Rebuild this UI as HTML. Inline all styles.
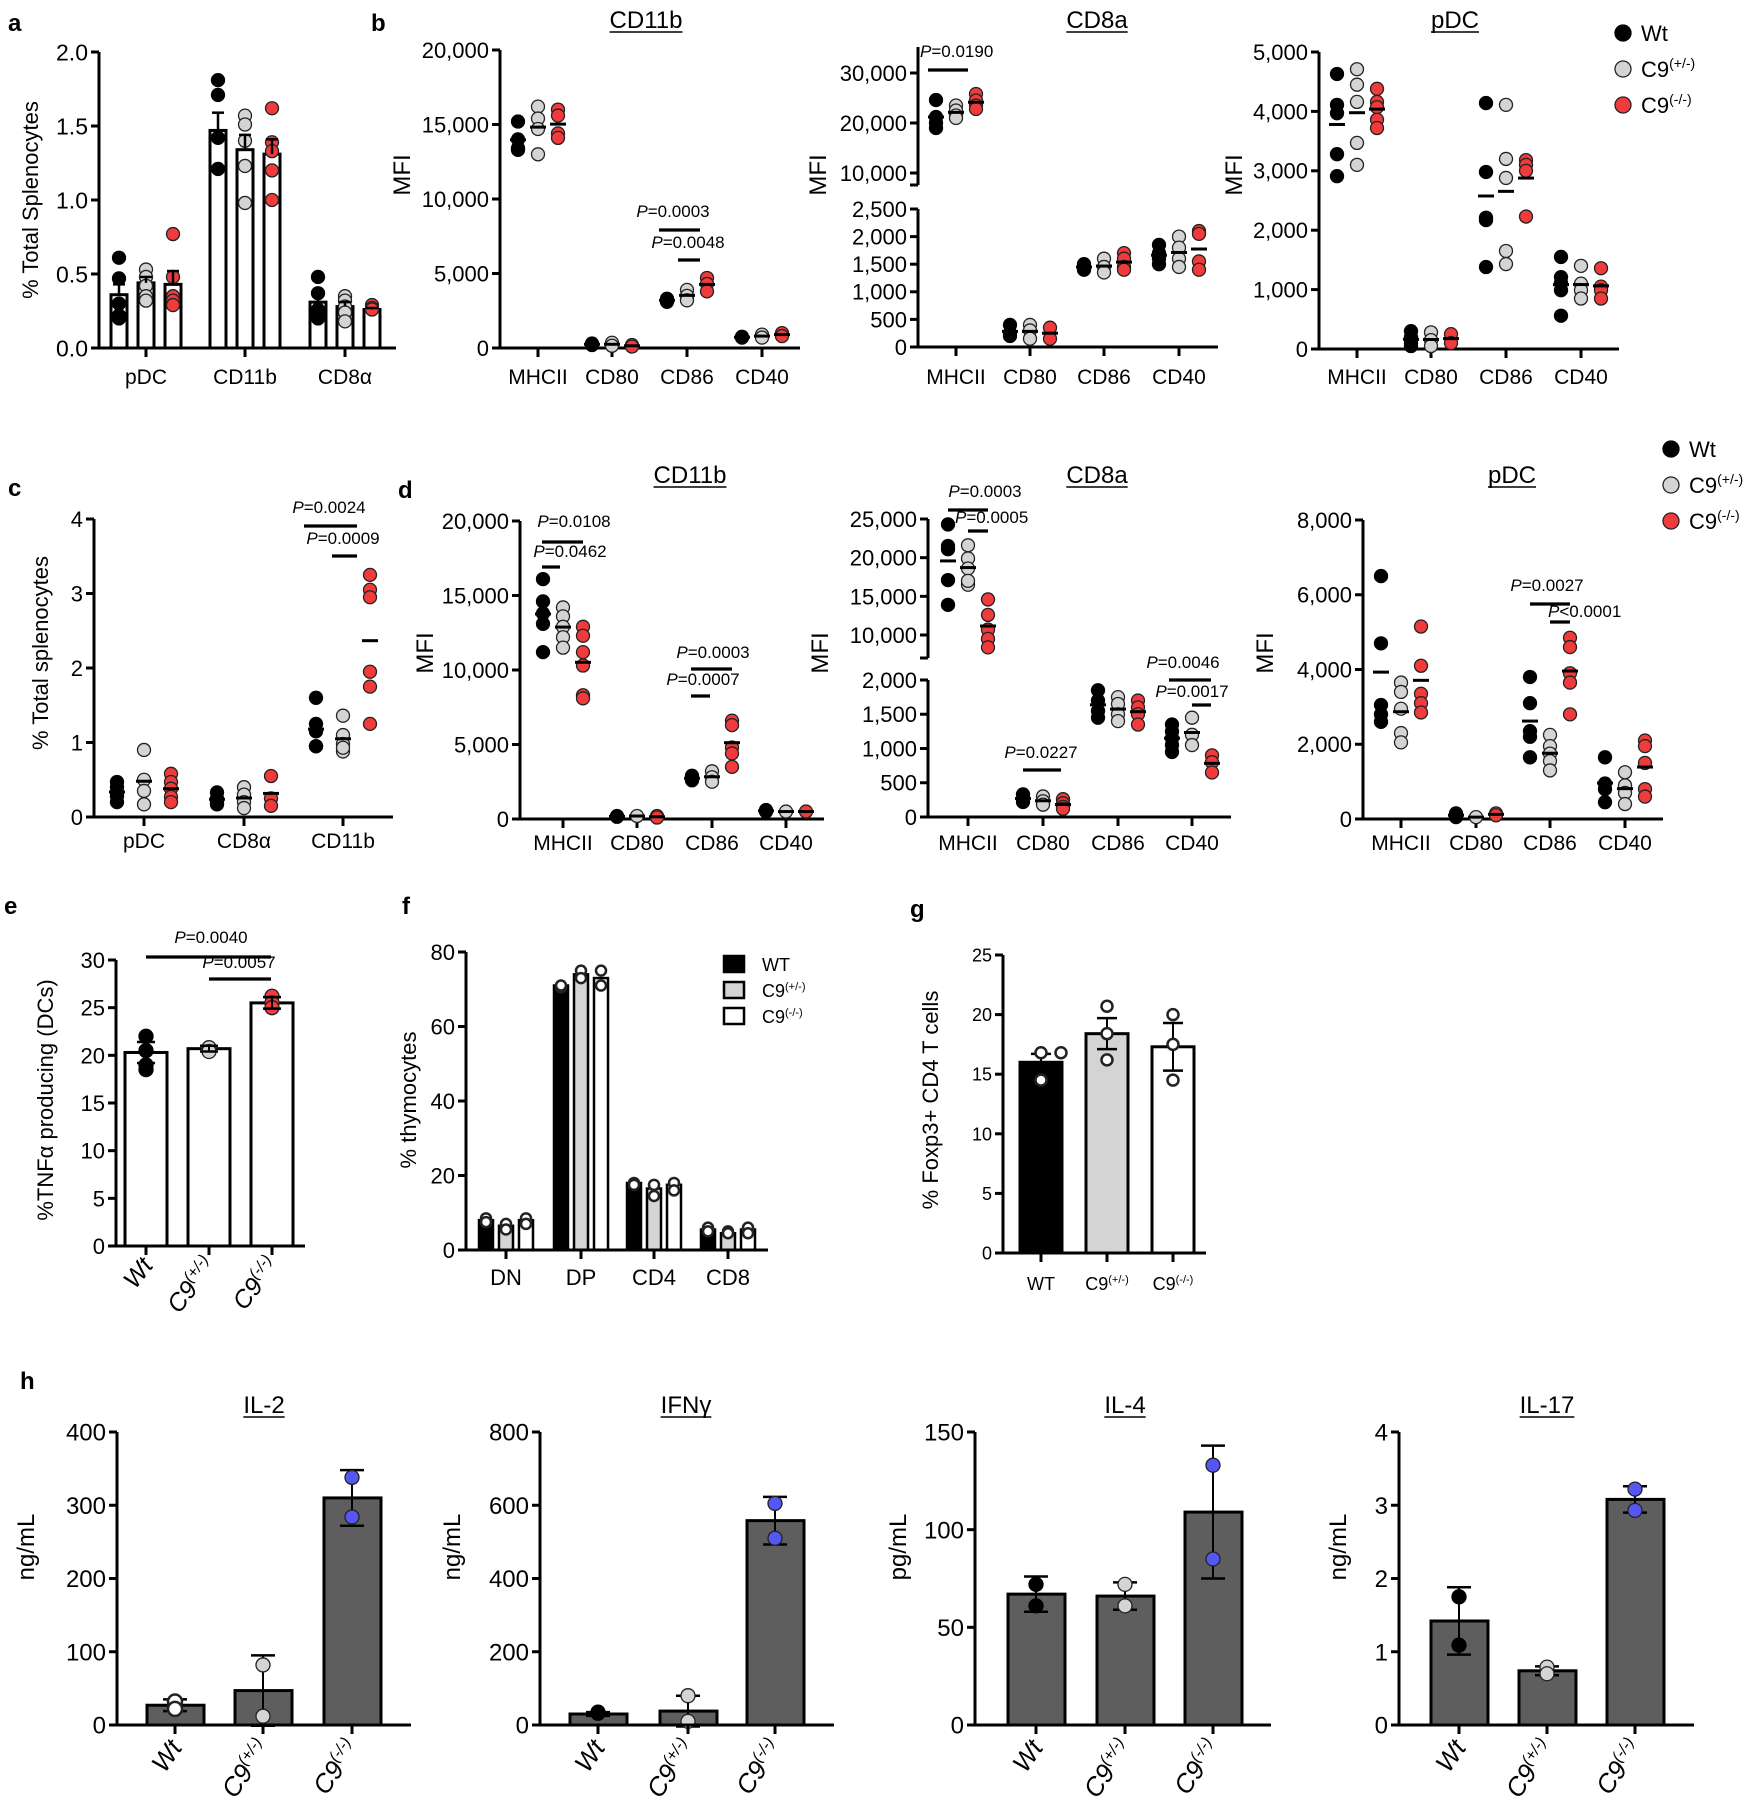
<!DOCTYPE html>
<html><head><meta charset="utf-8">
<style>body{margin:0;background:#fff}svg{display:block}text{font-family:"Liberation Sans",Arial,sans-serif}</style>
</head><body>
<svg id="fig" width="1748" height="1800" viewBox="0 0 1748 1800" xmlns="http://www.w3.org/2000/svg"></svg>
<script>
// ---------- DATA ----------
const genoLabels = ['Wt','C9(+/-)','C9(-/-)'];
// panel a
const a_cats = ['pDC','CD11b','CD8α'];
const a_ticks = [0,0.5,1,1.5,2];
const a_tickLabels = ['0.0','0.5','1.0','1.5','2.0'];
const a_barWt = [0.36,1.47,0.31];
const a_barHet = [0.44,1.34,0.28];
const a_barKo = [0.43,1.31,0.26];
const a_semWt = [0.07,0.12,0.05];
const a_semHet = [0.04,0.1,0.03];
const a_semKo = [0.09,0.1,0.01];
const a_ptsWt = [[0.61,0.47,0.3,0.22,0.2],[1.81,1.71,1.42,1.21],[0.48,0.37,0.26,0.2,0.22]];
const a_ptsHet = [[0.53,0.48,0.42,0.35,0.32],[1.57,1.51,1.4,1.23,0.98],[0.35,0.32,0.28,0.24,0.18]];
const a_ptsKo = [[0.77,0.48,0.35,0.32,0.29],[1.62,1.39,1.33,1.2,1.0],[0.29,0.27,0.26]];
// panel b
const b_cats = ['MHCII','CD80','CD86','CD40'];
const b1_ticks = [0,5000,10000,15000,20000];
const b1_tickLabels = ['0','5,000','10,000','15,000','20,000'];
const b1_wt = [[15200,14000,13400,13300],[300,200],[3300,3200,3100],[700,750]];
const b1_het = [[16200,15400,14700,13000],[350,150],[3900,3500,3200],[900,700]];
const b1_ko = [[16000,15600,14400,14100],[200,100],[4700,4300,3800],[1000,800]];
const b2_ticksTop = [10000,20000,30000];
const b2_tickLabelsTop = ['10,000','20,000','30,000'];
const b2_ticksBot = [0,500,1000,1500,2000,2500];
const b2_tickLabelsBot = ['0','500','1,000','1,500','2,000','2,500'];
const b2_wt = [[24600,21200,20000,19000],[400,250,200],[1500,1450,1400],[1850,1700,1600,1500]];
const b2_het = [[23500,22500,21500,21000],[400,300,150],[1600,1450,1350],[2000,1800,1600,1450]];
const b2_ko = [[25800,24500,23500,22800],[350,150],[1700,1600,1450,1400],[2100,2050,1550,1400]];
const b3_ticks = [0,1000,2000,3000,4000,5000];
const b3_tickLabels = ['0','1,000','2,000','3,000','4,000','5,000'];
const b3_wt = [[4630,4110,3970,3280,2910],[300,200,100,50],[4140,2980,2210,2170,1380],[1550,1210,1110,990,560]];
const b3_het = [[4710,4450,4160,3470,3100],[280,150,50],[4110,3200,2880,1650,1430],[1400,1100,990,850]];
const b3_ko = [[4380,4160,4070,3860,3720],[250,100],[3180,3100,3000,2230],[1360,1050,990,850]];
// panel c
const c_cats = ['pDC','CD8α','CD11b'];
const c_ticks = [0,1,2,3,4];
const c_tickLabels = ['0','1','2','3','4'];
const c_wt = [[0.47,0.4,0.33,0.28,0.2],[0.33,0.25,0.2,0.17],[1.6,1.25,1.15,0.95,0.95]];
const c_het = [[0.9,0.5,0.35,0.17],[0.4,0.3,0.2,0.12],[1.36,1.1,0.98,0.88,0.93]];
const c_ko = [[0.58,0.47,0.38,0.27,0.2],[0.55,0.25,0.15],[3.25,3.05,2.95,1.95,1.75,1.25]];
// panel d
const d1_ticks = [0,5000,10000,15000,20000];
const d1_tickLabels = ['0','5,000','10,000','15,000','20,000'];
const d1_wt = [[16100,14600,13800,13100,11200],[200,150],[2900,2700,2600],[600,500]];
const d1_het = [[14200,13600,12900,12200,11500],[200],[3200,2800,2500],[500]];
const d1_ko = [[12900,12300,11200,10300,8300,8100],[200,100],[6600,6300,4800,4400,3500],[500]];
const d2_ticksTop = [10000,15000,20000,25000];
const d2_tickLabelsTop = ['10,000','15,000','20,000','25,000'];
const d2_ticksBot = [0,500,1000,1500,2000];
const d2_tickLabelsBot = ['0','500','1,000','1,500','2,000'];
const d2_wt = [[24300,21100,17100,13900,21500],[330,260,220],[1850,1700,1550,1450],[1350,1250,1150,1050,950]];
const d2_het = [[21600,19900,18600,16500,17000],[300,230,180],[1750,1650,1500,1400],[1450,1200,1050]];
const d2_ko = [[14600,12600,10700,9500,8400],[260,200,150,120],[1700,1600,1500,1350],[900,800,650]];
const d3_ticks = [0,2000,4000,6000,8000];
const d3_tickLabels = ['0','2,000','4,000','6,000','8,000'];
const d3_wt = [[6500,4700,3050,2800,2600],[150,50],[3800,3100,2350,2200,1650],[1650,950,800,450]];
const d3_het = [[3650,3400,2950,2300,2050],[50],[2250,1950,1750,1550,1300],[1250,900,700,400]];
const d3_ko = [[5150,4100,3350,3100,2850],[150,100],[4850,4600,3900,3650,2800],[2100,1950,1500,800,600]];
// panel e
const e_ticks = [0,5,10,15,20,25,30];
const e_bars = [20.3,20.7,25.5];
const e_sem = [1.1,0.3,0.6];
const e_ptsWt = [22,20.5,19,18.5];
const e_ptsHet = [20.8,20.4];
const e_ptsKo = [26.2,25.5,25];
// panel f
const f_cats = ['DN','DP','CD4','CD8'];
const f_ticks = [0,20,40,60,80];
const f_legend = ['WT','C9(+/-)','C9(-/-)'];
const f_barWt = [8,71,18,5.5];
const f_barHet = [6.5,74,16.5,4.5];
const f_barKo = [8,73,17.5,5.5];
const f_ptsWt = [[8.5,7.5],[70.5,71],[18,17.5],[6,5]];
const f_ptsHet = [[7,5.5],[75,73],[17.5,14.5],[5,4.5]];
const f_ptsKo = [[8.5,7],[75,71],[18,16],[6,4.5]];
// panel g
const g_cats = ['WT','C9(+/-)','C9(-/-)'];
const g_ticks = [0,5,10,15,20,25];
const g_bars = [16,18.4,17.3];
const g_sem = [0.7,1.3,2.0];
const g_pts = [[16.8,16.8,14.5],[20.7,18.4,16.2],[20,17.5,14.5]];
// panel h
const h_titles = ['IL-2','IFNγ','IL-4','IL-17'];
const h_units = ['ng/mL','ng/mL','pg/mL','ng/mL'];
const h_max = [400,800,150,4];
const h_ticksIL2 = [0,100,200,300,400];
const h_ticksIFN = [0,200,400,600,800];
const h_ticksIL4 = [0,50,100,150];
const h_ticksIL17 = [0,1,2,3,4];
const h_barsIL2 = [27,47,310];
const h_barsIFN = [30,38,558];
const h_barsIL4 = [67,66,109];
const h_barsIL17 = [1.42,0.74,3.08];
const h_errIL2 = [8,48,38];
const h_errIFN = [5,42,65];
const h_errIL4 = [9,7,34];
const h_errIL17 = [0.46,0.06,0.18];
const h_ptsIL2 = [[32,22],[82,12],[338,284]];
const h_ptsIFN = [[35,32],[80,10],[605,510]];
const h_ptsIL4 = [[72,61],[72,61],[133,85]];
const h_ptsIL17 = [[1.75,1.09],[0.79,0.7],[3.22,2.93]];

// ---------- HELPERS ----------
const NS='http://www.w3.org/2000/svg';
const svg=document.getElementById('fig');
const FILL={wt:'#000',het:'#d4d4d4',ko:'#ef3b3b',blue:'#5656f5',white:'#fff'};
function mk(tag, attrs, name){
  const e=document.createElementNS(NS,tag);
  for(const k in attrs) e.setAttribute(k, attrs[k]);
  
  
  svg.appendChild(e);
  return e;
}
function line(x1,y1,x2,y2,name,w){return mk('line',{x1:x1,y1:y1,x2:x2,y2:y2,stroke:'#000','stroke-width':w||3},name);}
function txt(s,x,y,o,name){
  o=o||{};
  const t=mk('text',{x:x,y:y,'font-size':o.fs||22,'text-anchor':o.anchor||'middle',fill:'#000','font-style':o.italic?'italic':'normal','font-weight':o.bold?'bold':'normal'},name);
  if(o.rot!=null) t.setAttribute('transform','rotate('+o.rot+' '+x+' '+y+')');
  const m=/^(C9)(\(.*\))$/.exec(s);
  if(m){
    t.appendChild(document.createTextNode(m[1]));
    const sp=document.createElementNS(NS,'tspan');
    sp.setAttribute('font-size',Math.round((o.fs||22)*0.62));
    sp.setAttribute('dy',-(o.fs||22)*0.4);
    sp.textContent=m[2];
    t.appendChild(sp);
  } else t.textContent=s;
  return t;
}
function title(s,x,y,name){
  const t=txt(s,x,y,{fs:24},name);
  const w=t.getComputedTextLength();
  line(x-w/2,y+4,x+w/2,y+4,name+'-underline',1.6);
}
function lin(d0,d1,r0,r1){return v=>r0+(v-d0)/(d1-d0)*(r1-r0);}
function yAxis(ax,segs,ticks,labels,sc,fs,name){
  segs.forEach(s=>line(ax,s[0],ax,s[1],name+'-line'));
  ticks.forEach((v,i)=>{const y=sc(v);line(ax-8,y,ax,y,name+'-tick');txt(labels[i],ax-11,y+fs*0.36,{fs:fs,anchor:'end'},name+'-label');});
}
function xAxis(ax,x1,y,catX,labels,fs,ly,name){
  line(ax-1.5,y,x1,y,name+'-line');
  catX.forEach((x,i)=>{line(x,y,x,y+9,name+'-tick');if(labels) txt(labels[i],x,ly,{fs:fs},name+'-label');});
}
function dot(x,y,fill,r,name){return mk('circle',{cx:x,cy:y,r:r||6.5,fill:fill,stroke:fill==='#000'?'#000':'#222','stroke-width':fill===FILL.white?2.5:1.3},name);}
function sig(x1,x2,y,label,tx,ty,anchor,name){
  line(x1,y,x2,y,name+'-bar',3.2);
  const t=mk('text',{x:tx,y:ty,'font-size':17,'text-anchor':anchor||'middle',fill:'#000'},name+'-text');
  const p=document.createElementNS(NS,'tspan');p.setAttribute('font-style','italic');p.textContent='P';t.appendChild(p);
  t.appendChild(document.createTextNode(label));
}
function errBar(x,v,e,sc,cap,name){
  line(x,sc(v+e),x,sc(v-e),name,2);
  line(x-cap,sc(v+e),x+cap,sc(v+e),name+'-cap',2.5);
  line(x-cap,sc(v-e),x+cap,sc(v-e),name+'-cap',2.5);
}
const GK=['wt','het','ko'];
function dotPanel(P,cats,pts,name){
  yAxis(P.ax,P.segs,P.ticks,P.tickLabels,P.sc,P.fs||22,name+'-y-axis');
  xAxis(P.ax,P.x1,P.y0,P.catX,cats,21,P.ly,name+'-x-axis');
  cats.forEach((c,i)=>{
    GK.forEach((g,gi)=>{
      const xc=P.catX[i]+(gi-1)*P.off;
      const vals=pts[gi][i];
      if(P.bars){
        const bv=P.bars[gi][i];
        mk('rect',{x:xc-8,y:P.sc(bv),width:16,height:P.y0-P.sc(bv),fill:'#fff',stroke:'#000','stroke-width':3},name+'-bar-'+g);
      }
      vals.forEach(v=>dot(xc,P.sc(v),FILL[g],6.5,name+'-point-'+g));
      if(P.bars){
        const bv=P.bars[gi][i],e=P.sems[gi][i];
        line(xc,P.sc(bv),xc,P.sc(bv+e),name+'-sem-'+g,2.5);
        line(xc-6,P.sc(bv+e),xc+6,P.sc(bv+e),name+'-sem-cap-'+g,2.5);
      } else {
        const m=vals.reduce((a,b)=>a+b,0)/vals.length;
        line(xc-8,P.sc(m),xc+8,P.sc(m),name+'-mean-'+g,3);
      }
    });
  });
}
function legendDots(x,ys,name){
  genoLabels.forEach((l,i)=>{dot(x,ys[i],FILL[GK[i]],8,name+'-marker');txt(l,x+18,ys[i]+8,{fs:22,anchor:'start'},name+'-entry');});
}
function fmt(v){return String(v);}

// ---------- PANEL LETTERS ----------
[['a',8,31],['b',371,31],['c',8,496],['d',398,498],['e',4,914],['f',402,914],['g',910,917],['h',20,1389]].forEach(p=>txt(p[0],p[1],p[2],{fs:24,bold:true,anchor:'start'},'panel-letter-'+p[0]));

// ---------- PANEL A ----------
{
const sc=lin(0,2,348,52);
dotPanel({ax:99,x1:396,y0:348,sc:sc,segs:[[52,348]],ticks:a_ticks,tickLabels:a_tickLabels,catX:[146,245,345],off:27,ly:384,fs:23,
  bars:[a_barWt,a_barHet,a_barKo],sems:[a_semWt,a_semHet,a_semKo]},a_cats,
  [a_ptsWt,a_ptsHet,a_ptsKo],'panel-a');
txt('% Total Splenocytes',38,200,{fs:22,rot:-90},'panel-a-y-title');
}
// ---------- PANEL B ----------
{
const sc1=lin(0,20000,348,50);
dotPanel({ax:500,x1:800,y0:348,sc:sc1,segs:[[50,348]],ticks:b1_ticks,tickLabels:b1_tickLabels,catX:[538,612,687,762],off:20,ly:384},b_cats,[b1_wt,b1_het,b1_ko],'panel-b-cd11b');
title('CD11b',646,28,'panel-b-cd11b-title');
txt('MFI',410,175,{fs:24,rot:-90},'panel-b-cd11b-y-title');
sig(659,700,230,'=0.0003',673,217,'middle','panel-b-sig');
sig(678,700,260,'=0.0048',688,248,'middle','panel-b-sig');

const top2=lin(20000,30000,123,73), bot2=lin(0,2500,347,209);
const sc2=v=>v>=5000?top2(v):bot2(v);
yAxis(918,[[47,185],[209,347]],b2_ticksTop,b2_tickLabelsTop,sc2,22,'panel-b-cd8a-y-axis-top');
line(910,185,918,185,'panel-b-cd8a-break-tick');
yAxis(918,[],b2_ticksBot,b2_tickLabelsBot,sc2,22,'panel-b-cd8a-y-axis-bottom');
dotPanel({ax:918,x1:1218,y0:347,sc:sc2,segs:[],ticks:[],tickLabels:[],catX:[956,1030,1104,1179],off:20,ly:384},b_cats,[b2_wt,b2_het,b2_ko],'panel-b-cd8a');
title('CD8a',1097,28,'panel-b-cd8a-title');
txt('MFI',826,175,{fs:24,rot:-90},'panel-b-cd8a-y-title');
sig(928,968,70,'=0.0190',920,57,'start','panel-b-cd8a-sig');

const sc3=lin(0,5000,349,52);
dotPanel({ax:1319,x1:1619,y0:349,sc:sc3,segs:[[52,349]],ticks:b3_ticks,tickLabels:b3_tickLabels,catX:[1357,1431,1506,1581],off:20,ly:384},b_cats,[b3_wt,b3_het,b3_ko],'panel-b-pdc');
title('pDC',1455,28,'panel-b-pdc-title');
txt('MFI',1242,175,{fs:24,rot:-90},'panel-b-pdc-y-title');
legendDots(1623,[33,69,105],'legend-b');
}
// ---------- PANEL C ----------
{
const sc=lin(0,4,817,519);
dotPanel({ax:94,x1:393,y0:817,sc:sc,segs:[[519,817]],ticks:c_ticks,tickLabels:c_tickLabels,catX:[144,244,343],off:27,ly:848},c_cats,[c_wt,c_het,c_ko],'panel-c');
txt('%  Total splenocytes',48,653,{fs:22,rot:-90},'panel-c-y-title');
sig(304,357,526,'=0.0024',329,513,'middle','panel-c-sig');
sig(332,357,556,'=0.0009',343,544,'middle','panel-c-sig');
}
// ---------- PANEL D ----------
{
const sc1=lin(0,20000,819,521);
dotPanel({ax:520,x1:824,y0:819,sc:sc1,segs:[[521,819]],ticks:d1_ticks,tickLabels:d1_tickLabels,catX:[563,637,712,786],off:20,ly:850},b_cats,[d1_wt,d1_het,d1_ko],'panel-d-cd11b');
title('CD11b',690,483,'panel-d-cd11b-title');
txt('MFI',433,653,{fs:24,rot:-90},'panel-d-cd11b-y-title');
sig(542,583,542,'=0.0108',574,527,'middle','panel-d-sig');
sig(542,560,567,'=0.0462',570,557,'middle','panel-d-sig');
sig(691,732,669,'=0.0003',713,658,'middle','panel-d-sig');
sig(691,710,696,'=0.0007',703,685,'middle','panel-d-sig');

const top2=lin(10000,25000,635,519), bot2=lin(0,2000,817,680);
const sc2=v=>v>=4000?top2(v):bot2(v);
yAxis(928,[[519,658],[680,817]],d2_ticksTop,d2_tickLabelsTop,sc2,22,'panel-d-cd8a-y-axis-top');
line(920,658,928,658,'panel-d-cd8a-break-tick');
yAxis(928,[],d2_ticksBot,d2_tickLabelsBot,sc2,22,'panel-d-cd8a-y-axis-bottom');
dotPanel({ax:928,x1:1231,y0:817,sc:sc2,segs:[],ticks:[],tickLabels:[],catX:[968,1043,1118,1192],off:20,ly:850},b_cats,[d2_wt,d2_het,d2_ko],'panel-d-cd8a');
title('CD8a',1097,483,'panel-d-cd8a-title');
txt('MFI',828,653,{fs:24,rot:-90},'panel-d-cd8a-y-title');
sig(948,988,510,'=0.0003',985,497,'middle','panel-d-sig');
sig(968,988,531,'=0.0005',955,523,'start','panel-d-sig');
sig(1023,1061,770,'=0.0227',1041,758,'middle','panel-d-sig');
sig(1169,1211,680,'=0.0046',1183,668,'middle','panel-d-sig');
sig(1192,1211,705,'=0.0017',1192,697,'middle','panel-d-sig');

const sc3=lin(0,8000,819,520);
dotPanel({ax:1363,x1:1663,y0:819,sc:sc3,segs:[[520,819]],ticks:d3_ticks,tickLabels:d3_tickLabels,catX:[1401,1476,1550,1625],off:20,ly:850},b_cats,[d3_wt,d3_het,d3_ko],'panel-d-pdc');
title('pDC',1512,483,'panel-d-pdc-title');
txt('MFI',1273,653,{fs:24,rot:-90},'panel-d-pdc-y-title');
sig(1530,1570,604,'=0.0027',1547,591,'middle','panel-d-sig');
sig(1550,1570,622,'<0.0001',1548,617,'start','panel-d-sig');
legendDots(1671,[449,485,521],'legend-d');
}
// ---------- PANEL E ----------
{
const sc=lin(0,30,1246,960);
yAxis(116,[[960,1246]],e_ticks,e_ticks.map(fmt),sc,22,'panel-e-y-axis');
const cx=[146,209,272];
e_bars.forEach((v,i)=>mk('rect',{x:cx[i]-21,y:sc(v),width:42,height:1246-sc(v),fill:'#fff',stroke:'#000','stroke-width':3},'panel-e-bar'));
xAxis(116,305,1246,cx,null,20,0,'panel-e-x-axis');
[e_ptsWt,e_ptsHet,e_ptsKo].forEach((arr,i)=>arr.forEach(v=>dot(cx[i],sc(v),[FILL.wt,FILL.het,FILL.ko][i],7,'panel-e-point')));
e_bars.forEach((v,i)=>errBar(cx[i],v,e_sem[i],sc,9,'panel-e-sem'));
genoLabels.forEach((l,i)=>txt(l,cx[i]+8,1266,{fs:25,anchor:'end',rot:-52,italic:true},'panel-e-x-label'));
txt('%TNFα producing (DCs)',53,1100,{fs:22,rot:-90},'panel-e-y-title');
sig(146,271,957,'=0.0040',211,943,'middle','panel-e-sig');
sig(209,271,979,'=0.0057',239,968,'middle','panel-e-sig');
}
// ---------- PANEL F ----------
{
const sc=lin(0,80,1250,952);
yAxis(466,[[952,1250]],f_ticks,f_ticks.map(fmt),sc,22,'panel-f-y-axis');
const cx=[506,581,654,728], fills=[FILL.wt,FILL.het,FILL.white];
[f_barWt,f_barHet,f_barKo].forEach((arr,g)=>arr.forEach((v,i)=>{
  mk('rect',{x:cx[i]+(g-1)*20-7,y:sc(v),width:14,height:1250-sc(v),fill:fills[g],stroke:'#000','stroke-width':2.5},'panel-f-bar-'+GK[g]);
}));
[f_ptsWt,f_ptsHet,f_ptsKo].forEach((arr,g)=>arr.forEach((vals,i)=>vals.forEach(v=>dot(cx[i]+(g-1)*20,sc(v),FILL.white,5,'panel-f-point'))));
xAxis(466,768,1250,cx,f_cats,22,1285,'panel-f-x-axis');
txt('% thymocytes',416,1100,{fs:22,rot:-90},'panel-f-y-title');
f_legend.forEach((l,i)=>{const y=956+i*26;mk('rect',{x:724,y:y,width:20,height:16,fill:fills[i],stroke:'#000','stroke-width':2.5},'panel-f-legend-swatch');txt(l,762,y+15,{fs:18,anchor:'start'},'panel-f-legend-entry');});
}
// ---------- PANEL G ----------
{
const sc=lin(0,25,1253,955);
yAxis(1003,[[955,1253]],g_ticks,g_ticks.map(fmt),sc,18,'panel-g-y-axis');
const cx=[1041,1107,1173], fills=[FILL.wt,FILL.het,FILL.white];
g_bars.forEach((v,i)=>mk('rect',{x:cx[i]-21,y:sc(v),width:42,height:1253-sc(v),fill:fills[i],stroke:'#000','stroke-width':3},'panel-g-bar'));
g_bars.forEach((v,i)=>errBar(cx[i],v,g_sem[i],sc,10,'panel-g-sem'));
g_pts.forEach((vals,i)=>vals.forEach((v,k)=>dot(cx[i]+(k===1&&i===0?20:0),sc(v),FILL.white,5.5,'panel-g-point')));
xAxis(1003,1206,1253,cx,g_cats,18,1290,'panel-g-x-axis');
txt('% Foxp3+ CD4 T cells',938,1100,{fs:22,rot:-90},'panel-g-y-title');
}
// ---------- PANEL H ----------
{
const axes=[117,540,975,1399], ends=[411,834,1271,1694];
const centers=[[175,263,352],[598,688,775],[1036,1125,1213],[1459,1547,1635]];
const ticks=[h_ticksIL2,h_ticksIFN,h_ticksIL4,h_ticksIL17];
const bars=[h_barsIL2,h_barsIFN,h_barsIL4,h_barsIL17];
const errs=[h_errIL2,h_errIFN,h_errIL4,h_errIL17];
const pts=[h_ptsIL2,h_ptsIFN,h_ptsIL4,h_ptsIL17];
const ylx=[34,460,906,1346];
for(let p=0;p<4;p++){
  const nm='panel-h-'+h_titles[p].toLowerCase().replace('γ','g');
  const sc=lin(0,h_max[p],1725,1432);
  yAxis(axes[p],[[1432,1725]],ticks[p],ticks[p].map(fmt),sc,24,nm+'-y-axis');
  bars[p].forEach((v,i)=>mk('rect',{x:centers[p][i]-28,y:sc(v),width:57,height:1725-sc(v),fill:'#5e5e5e',stroke:'#000','stroke-width':3},nm+'-bar'));
  bars[p].forEach((v,i)=>errBar(centers[p][i],v,errs[p][i],sc,12,nm+'-error'));
  const dfill=[p===0?FILL.white:FILL.wt,FILL.het,FILL.blue];
  pts[p].forEach((vals,i)=>vals.forEach(v=>dot(centers[p][i],sc(v),dfill[i],7,nm+'-point')));
  xAxis(axes[p],ends[p],1725,centers[p],null,20,0,nm+'-x-axis');
  genoLabels.forEach((l,i)=>txt(l,centers[p][i]+8,1748,{fs:26,anchor:'end',rot:-55,italic:true},nm+'-x-label'));
  title(h_titles[p],[264,686,1125,1547][p],1413,nm+'-title');
  txt(h_units[p],ylx[p],1547,{fs:24,rot:-90},nm+'-y-title');
}
}
</script>
</body></html>
